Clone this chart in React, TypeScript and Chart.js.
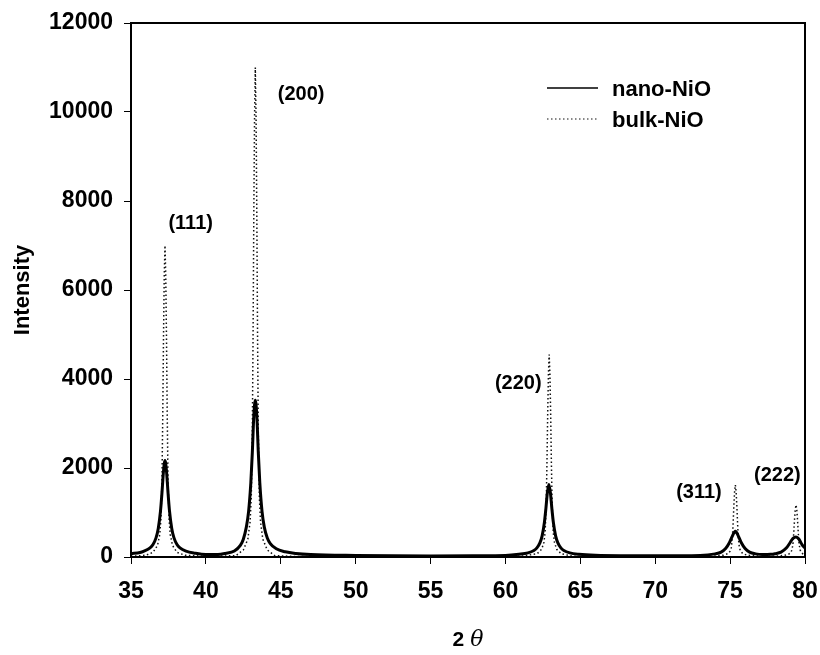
import React, { useEffect, useRef } from "react";
import { Chart, registerables } from "chart.js";

Chart.register(...registerables);

// nano-NiO diffraction pattern (2θ, intensity)
const nanoTheta = [
  35, 35.6, 35.87, 36.27, 36.47, 36.67, 36.82, 36.97, 37.07, 37.17, 37.27, 37.37, 37.47, 37.57, 37.72, 37.87, 38.07, 38.27, 38.67, 39.27, 40.0, 40.8,
  41.3, 41.9, 42.3, 42.5, 42.7, 42.85, 43.0, 43.1, 43.2, 43.3, 43.4, 43.5, 43.6, 43.75, 43.9, 44.1, 44.3, 44.7, 45.3, 46.0, 47, 50, 55, 58, 60,
  60.9, 61.5, 61.9, 62.1, 62.3, 62.45, 62.6, 62.7, 62.8, 62.9, 63.0, 63.1, 63.2, 63.35, 63.5, 63.7, 63.9, 64.3, 64.9, 66, 70, 73,
  74.0, 74.4, 74.7, 74.95, 75.15, 75.35, 75.55, 75.75, 76.0, 76.3, 76.7, 77.2, 77.7, 78.0, 78.4, 78.75, 79.0, 79.2, 79.4, 79.6, 79.8, 80,
];
const nanoIntensity = [
  75, 100, 132, 204, 281, 429, 642, 1037, 1454, 1930, 2170, 1930, 1454, 1037, 642, 429, 281, 204, 132, 85, 55, 55,
  80, 135, 260, 400, 671, 1018, 1667, 2347, 3178, 3520, 3178, 2347, 1667, 1018, 671, 428, 302, 184, 117, 80, 55, 35, 25, 28, 35,
  61, 92, 146, 204, 316, 476, 776, 1089, 1449, 1630, 1449, 1089, 776, 476, 316, 204, 146, 92, 61, 40, 28, 35,
  70, 110, 190, 320, 470, 580, 470, 320, 190, 110, 70, 55, 60, 75, 110, 200, 320, 420, 450, 400, 280, 200,
];

// bulk-NiO diffraction pattern (2θ, intensity)
const bulkTheta = [
  35, 36.0, 36.47, 36.77, 36.92, 37.0, 37.07, 37.12, 37.17, 37.22, 37.27, 37.32, 37.37, 37.42, 37.47, 37.54, 37.62, 37.77, 38.07, 38.6, 40,
  42.0, 42.5, 42.8, 42.95, 43.03, 43.1, 43.15, 43.2, 43.25, 43.3, 43.35, 43.4, 43.45, 43.5, 43.57, 43.65, 43.8, 44.1, 44.6, 46,
  61.0, 62.12, 62.42, 62.57, 62.65, 62.72, 62.77, 62.82, 62.87, 62.92, 62.97, 63.02, 63.07, 63.12, 63.19, 63.27, 63.42, 63.72, 64.5, 70,
  74.0, 74.55, 74.85, 75.0, 75.08, 75.15, 75.2, 75.25, 75.3, 75.35, 75.4, 75.45, 75.5, 75.55, 75.62, 75.7, 75.85, 76.15, 76.8, 78,
  78.6, 78.9, 79.05, 79.13, 79.2, 79.25, 79.3, 79.35, 79.4, 79.45, 79.5, 79.55, 79.6, 79.67, 79.75, 79.9, 80,
];
const bulkIntensity = [
  15, 40, 105, 260, 505, 855, 1765, 3165, 4915, 6315, 7000, 6315, 4915, 3165, 1765, 855, 505, 260, 105, 40, 15,
  30, 158, 400, 785, 1335, 2765, 4965, 7715, 9915, 11000, 9915, 7715, 4965, 2765, 1335, 785, 400, 158, 30, 12,
  15, 74, 174, 334, 561, 1153, 2063, 3200, 4110, 4550, 4110, 3200, 2063, 1153, 561, 334, 174, 74, 15, 12,
  20, 40, 75, 130, 210, 420, 745, 1150, 1475, 1620, 1475, 1150, 745, 420, 210, 130, 75, 40, 20, 18,
  35, 60, 100, 160, 310, 545, 840, 1070, 1170, 1070, 840, 545, 310, 160, 100, 60, 45,
];

// peak labels (Miller indices) anchored in data coordinates
const peakLabels = ["(111)", "(200)", "(220)", "(311)", "(222)"];
const peakLabelTheta = [37.5, 44.8, 59.3, 71.4, 76.6];
const peakLabelIntensity = [7500, 10400, 3890, 1440, 1840];

const xTicks = [35, 40, 45, 50, 55, 60, 65, 70, 75, 80];
const yTicks = [0, 2000, 4000, 6000, 8000, 10000, 12000];

const FONT = '"Liberation Sans", Arial, Helvetica, sans-serif';

export default function App() {
  const ref = useRef<HTMLCanvasElement | null>(null);

  useEffect(() => {
    if (!ref.current) return;

    const overlay = {
      id: "overlay",
      afterDatasetsDraw(chart: any) {
        const { ctx, chartArea, scales } = chart;
        const xs = scales.x;
        const ys = scales.y;
        ctx.save();
        // peak labels
        ctx.fillStyle = "#000";
        ctx.font = `bold 20px ${FONT}`;
        ctx.textAlign = "left";
        ctx.textBaseline = "middle";
        peakLabels.forEach((t, i) => {
          ctx.fillText(t, xs.getPixelForValue(peakLabelTheta[i]), ys.getPixelForValue(peakLabelIntensity[i]));
        });
        // frame
        ctx.strokeStyle = "#000";
        ctx.lineWidth = 2;
        ctx.setLineDash([]);
        ctx.strokeRect(chartArea.left, chartArea.top, chartArea.right - chartArea.left, chartArea.bottom - chartArea.top);
        // legend
        const lx0 = chartArea.right - 258;
        const lx1 = lx0 + 51;
        const ly = chartArea.top + 65;
        const gap = 31;
        chart.data.datasets.forEach((ds: any, i: number) => {
          const y = ly + i * gap;
          ctx.beginPath();
          ctx.strokeStyle = ds.borderColor;
          ctx.lineWidth = i === 0 ? 1.5 : 1;
          ctx.setLineDash(ds.borderDash || []);
          ctx.moveTo(lx0, y);
          ctx.lineTo(lx1, y);
          ctx.stroke();
          ctx.setLineDash([]);
          ctx.fillStyle = "#000";
          ctx.font = `bold 22px ${FONT}`;
          ctx.textAlign = "left";
          ctx.textBaseline = "middle";
          ctx.fillText(ds.label, lx0 + 65, y + 2);
        });
        // x-axis title: "2 θ"
        const cx = (chartArea.left + chartArea.right) / 2;
        const ty = 640;
        ctx.font = `bold 21px ${FONT}`;
        const w2 = ctx.measureText("2 ").width;
        ctx.font = `italic 22px "DejaVu Serif", serif`;
        const wt = ctx.measureText("θ").width;
        const start = cx - (w2 + wt) / 2;
        ctx.font = `bold 21px ${FONT}`;
        ctx.textAlign = "left";
        ctx.fillText("2 ", start, ty);
        ctx.font = `italic 22px "DejaVu Serif", serif`;
        ctx.fillText("θ", start + w2, ty);
        ctx.restore();
      },
    };

    const chart = new Chart(ref.current, {
      type: "line",
      data: {
        datasets: [
          {
            label: "nano-NiO",
            data: nanoTheta.map((x, i) => ({ x, y: nanoIntensity[i] })),
            borderColor: "#000",
            borderWidth: 3,
            pointRadius: 0,
            cubicInterpolationMode: "monotone",
            fill: false,
          },
          {
            label: "bulk-NiO",
            data: bulkTheta.map((x, i) => ({ x, y: bulkIntensity[i] })),
            borderColor: "#111",
            borderWidth: 1.5,
            borderDash: [1.5, 2.5],
            pointRadius: 0,
            tension: 0,
            fill: false,
          },
        ],
      },
      options: {
        animation: false,
        responsive: false,
        layout: { padding: { top: 23, right: 15, left: 0, bottom: 0 } },
        plugins: { legend: { display: false }, tooltip: { enabled: false } },
        scales: {
          x: {
            type: "linear",
            min: 35,
            max: 80,
            afterBuildTicks: (s: any) => {
              s.ticks = xTicks.map((v) => ({ value: v }));
            },
            afterFit: (s: any) => {
              s.height = 98;
              s.paddingLeft = 0;
              s.paddingRight = 0;
            },
            border: { display: false },
            grid: { drawOnChartArea: false, drawTicks: true, tickLength: 7, tickColor: "#000", tickWidth: 1 },
            ticks: {
              color: "#000",
              font: { family: FONT, size: 23, weight: "bold" },
              padding: 14,
              maxRotation: 0,
              callback: (v: any) => String(v),
            },
          },
          y: {
            type: "linear",
            min: 0,
            max: 12000,
            afterBuildTicks: (s: any) => {
              s.ticks = yTicks.map((v) => ({ value: v }));
            },
            afterFit: (s: any) => {
              s.width = 131;
              s.paddingTop = 0;
              s.paddingBottom = 0;
            },
            border: { display: false },
            grid: { drawOnChartArea: false, drawTicks: true, tickLength: 7, tickColor: "#000", tickWidth: 1 },
            ticks: {
              color: "#000",
              font: { family: FONT, size: 23, weight: "bold" },
              padding: 11,
              callback: (v: any) => String(v),
            },
            title: {
              display: true,
              text: "Intensity",
              color: "#000",
              font: { family: FONT, size: 22, weight: "bold" },
              padding: { top: 10, bottom: 0 },
            },
          },
        },
      },
      plugins: [overlay],
    } as any);

    return () => chart.destroy();
  }, []);

  return (
    <div style={{ position: "fixed", left: 0, top: 0, width: 820, height: 655, background: "#fff" }}>
      <canvas ref={ref} width={820} height={655} style={{ display: "block" }} />
    </div>
  );
}
